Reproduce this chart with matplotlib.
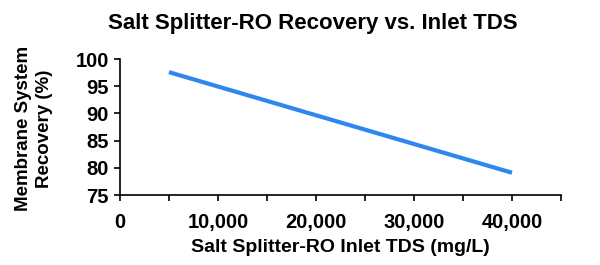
import matplotlib.pyplot as plt
from matplotlib.ticker import FuncFormatter, MultipleLocator

plt.rcParams['font.family'] = ['Liberation Sans', 'DejaVu Sans']
plt.rcParams['font.weight'] = 'bold'

# inlet TDS (mg/L) and recovery (%)
tds = [5000, 40000]
recovery = [97.6, 79.1]

fig = plt.figure(figsize=(6, 2.65), dpi=100)
ax = fig.add_axes([0.2, 0.264, 0.735, 0.513])

ax.plot(tds, recovery, color='#2f86ee', linewidth=3, solid_capstyle='butt')

ax.set_xlim(0, 45000)
ax.set_ylim(75, 100)
ax.xaxis.set_major_locator(MultipleLocator(10000))
ax.xaxis.set_minor_locator(MultipleLocator(5000))
ax.yaxis.set_major_locator(MultipleLocator(5))
ax.xaxis.set_major_formatter(FuncFormatter(lambda v, p: f'{int(v):,}'))

for s in ['top', 'right']:
    ax.spines[s].set_visible(False)
for s in ['left', 'bottom']:
    ax.spines[s].set_linewidth(1.2)

ax.tick_params(axis='both', which='both', direction='out', width=1.2, labelsize=14.5)
ax.tick_params(axis='both', which='major', length=4)
ax.tick_params(axis='x', which='minor', length=4)
ax.tick_params(axis='x', pad=9)
ax.tick_params(axis='y', pad=4)

ax.set_xlabel('Salt Splitter-RO Inlet TDS (mg/L)', fontsize=14, fontweight='bold', labelpad=5)

fig.text(0.057, 0.515, 'Membrane System\nRecovery (%)', ha='center', va='center',
         rotation=90, fontsize=13.5, fontweight='bold', linespacing=1.3)

fig.text(0.522, 0.913, 'Salt Splitter-RO Recovery vs. Inlet TDS', ha='center', va='center',
         fontsize=16, fontweight='bold')

fig.savefig('out.png', dpi=100)
